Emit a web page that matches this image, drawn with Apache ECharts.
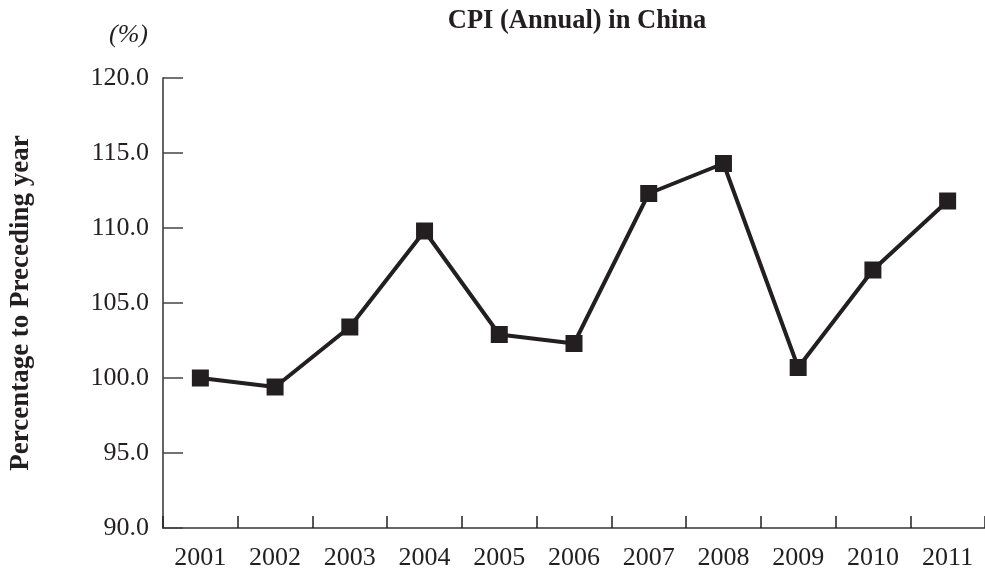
<!DOCTYPE html>
<html>
<head>
<meta charset="utf-8">
<script src="https://cdn.jsdelivr.net/npm/echarts@6/dist/echarts.min.js"></script>
<style>
  html, body { margin: 0; padding: 0; background: #fff; }
  #chart { width: 985px; height: 573px; }
</style>
</head>
<body>
<div id="chart"></div>
<script>
// Consumer price index, previous year = 100
const years = ['2001', '2002', '2003', '2004', '2005', '2006', '2007', '2008', '2009', '2010', '2011'];
const cpiValues = [100.0, 99.4, 103.4, 109.8, 102.9, 102.3, 112.3, 114.3, 100.7, 107.2, 111.8];
const yTicks = [90, 95, 100, 105, 110, 115, 120];

const serif = "'Liberation Serif', 'Times New Roman', Times, serif";
const ink = '#231f20';
const axisGray = '#666666';

const chart = echarts.init(document.getElementById('chart'), null, { renderer: 'canvas' });

chart.setOption({
  animation: false,
  backgroundColor: '#ffffff',
  title: {
    text: 'CPI (Annual) in China',
    left: 572,
    top: 3,
    textAlign: 'center',
    textStyle: { fontFamily: serif, fontSize: 26.5, fontWeight: 'bold', color: ink }
  },
  graphic: [{
    type: 'text',
    left: 109,
    top: 22,
    style: {
      text: '(%)',
      font: 'italic 26px ' + serif,
      fill: ink
    }
  }],
  grid: { left: 162, top: 78, width: 828, height: 450, containLabel: false },
  xAxis: {
    type: 'category',
    data: years,
    boundaryGap: true,
    axisLine: { show: true, lineStyle: { color: axisGray, width: 2 } },
    axisTick: { show: true, inside: true, length: 12, alignWithLabel: false, lineStyle: { color: ink, width: 1.5 } },
    axisLabel: { fontFamily: serif, fontSize: 26, color: ink, margin: 17 },
    splitLine: { show: false }
  },
  yAxis: {
    type: 'value',
    min: yTicks[0],
    max: yTicks[yTicks.length - 1],
    interval: yTicks[1] - yTicks[0],
    name: 'Percentage to Preceding year',
    nameLocation: 'middle',
    nameRotate: 90,
    nameGap: 128,
    nameTextStyle: { fontFamily: serif, fontSize: 27, fontWeight: 'bold', color: ink },
    axisLine: { show: true, lineStyle: { color: axisGray, width: 2 } },
    axisTick: { show: true, inside: true, length: 20, lineStyle: { color: '#444', width: 1.5 } },
    axisLabel: {
      fontFamily: serif, fontSize: 26, color: ink, margin: 14,
      formatter: v => v.toFixed(1)
    },
    splitLine: { show: false }
  },
  series: [{
    type: 'line',
    data: cpiValues,
    symbol: 'rect',
    symbolSize: 17,
    showAllSymbol: true,
    lineStyle: { color: ink, width: 4 },
    itemStyle: { color: ink, borderWidth: 0 },
    emphasis: { disabled: true }
  }]
});
</script>
</body>
</html>
